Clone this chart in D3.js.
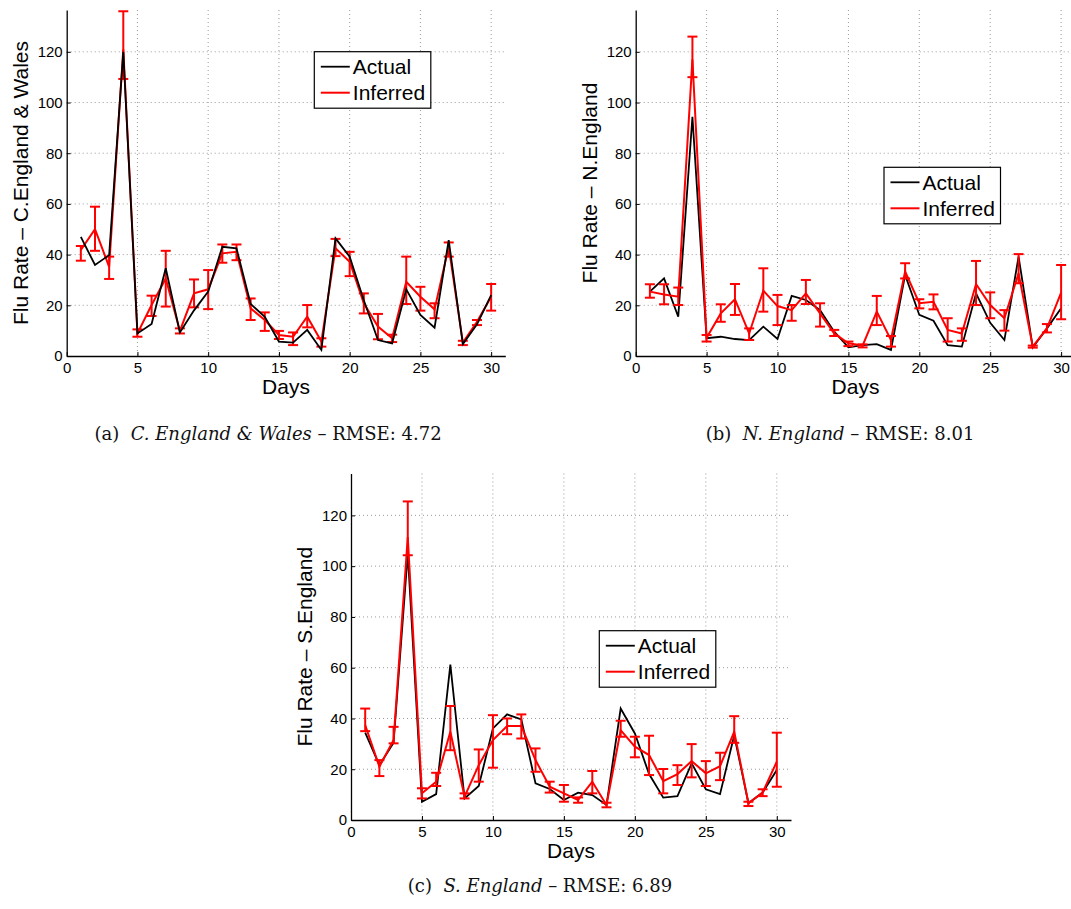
<!DOCTYPE html>
<html>
<head>
<meta charset="utf-8">
<script src="https://cdn.jsdelivr.net/npm/d3@7"></script>
<style>
  html, body { margin: 0; padding: 0; background: #fff; }
  svg { display: block; }
  .sans { font-family: "Liberation Sans", Arial, Helvetica, sans-serif; }
  .serif { font-family: "DejaVu Serif", "Liberation Serif", serif; }
</style>
</head>
<body>
<svg id="chart" width="1071" height="909"></svg>
<script>
// ---------------- DATA ----------------
const days = [1,2,3,4,5,6,7,8,9,10,11,12,13,14,15,16,17,18,19,20,21,22,23,24,25,26,27,28,29,30];
const xTicks = [0,5,10,15,20,25,30];
const yTicks = [0,20,40,60,80,100,120];
const seriesNames = ["Actual", "Inferred"];

// (a) C. England & Wales
const actualA = [47.0,35.9,39.8,120,8.9,12.6,34.6,9.3,18.0,25.4,43.1,42.5,20.5,15.5,5.7,5.3,10.3,2.4,46.4,39.2,22.0,6.3,5.0,26.3,16.2,11.2,45.7,4.7,12.5,24.0];
const inferredA = [41.8,50.0,35.2,121,8.9,20.1,30.6,9.9,24.7,26.3,40.5,41.1,18.8,14.2,8.3,7.6,15.5,5.7,42.5,37.2,20.8,11.6,7.0,29.3,23.4,18.4,43.1,5.3,13.5,23.4];
const inferredHiA = [43.4,58.9,39.2,136,10.5,23.8,41.5,10.9,30.2,33.9,44.0,44.0,22.7,17.2,9.9,9.3,20.1,7.0,46.2,41.1,24.7,16.6,8.4,39.2,27.3,20.8,44.8,6.0,14.2,28.4];
const inferredLoA = [37.6,41.5,30.4,109.3,7.6,15.8,19.5,8.9,19.2,18.5,36.8,37.8,14.2,9.9,6.7,4.3,11.3,3.7,39.4,31.5,16.8,6.6,5.5,20.5,17.9,14.9,39.2,4.3,12.2,17.9];

// (b) N. England
const actualB = [25.4,30.6,15.5,94.4,7.0,7.6,6.7,6.3,11.6,6.7,23.7,22.1,18.1,9.6,3.4,4.3,4.7,2.4,32.0,16.2,13.9,4.3,3.7,24.7,13.1,6.3,39.2,3.4,10.9,18.8];
const inferredB = [25.4,24.3,23.4,117,7.2,16.8,22.4,8.9,25.8,19.7,18.1,24.7,16.8,8.9,5.0,4.1,17.5,6.3,33.3,20.8,21.4,10.3,8.9,28.4,20.1,14.9,32.6,3.7,10.9,25.0];
const inferredHiB = [28.3,28.3,27.0,126,8.3,20.4,28.4,10.9,34.6,24.1,20.1,30.0,20.8,10.3,5.7,4.6,23.7,7.9,36.6,22.4,24.3,14.9,10.9,37.5,25.1,18.1,40.2,4.1,12.6,35.9];
const inferredLoB = [23.0,20.4,20.1,110,5.7,13.5,16.2,6.3,17.5,12.2,13.9,20.5,11.6,7.9,3.9,3.4,12.2,3.7,30.6,18.8,18.4,5.7,6.0,20.1,14.9,10.0,28.7,3.3,9.3,14.5];

// (c) S. England
const actualC = [34.4,21.6,30.4,105,7.2,10.2,61.2,8.5,13.4,36.1,41.6,39.6,14.4,12.2,7.9,10.8,9.8,5.9,43.9,34.1,18.1,8.8,9.4,22.3,12.1,10.2,33.4,6.6,10.8,19.7];
const inferredC = [37.4,21.0,31.5,111.5,10.5,15.1,34.8,9.2,21.6,31.5,37.0,37.0,23.6,13.1,10.5,7.9,15.1,5.9,35.4,28.9,25.6,15.3,18.1,23.2,18.4,21.2,34.8,6.6,10.8,23.0];
const inferredHiC = [43.9,23.6,36.7,125.5,12.5,18.6,44.9,10.5,27.8,41.3,40.0,41.6,28.2,15.1,13.8,8.9,19.3,6.8,39.1,32.8,33.2,20.1,21.6,29.9,23.2,26.5,40.9,7.2,12.1,34.4];
const inferredLoC = [35.0,17.3,30.2,104.3,8.5,13.4,27.5,8.5,15.1,20.6,33.8,32.1,19.0,10.8,7.2,6.8,10.5,5.0,32.8,24.7,17.7,10.5,13.8,16.8,13.4,15.7,30.4,5.5,9.4,13.1];

const yLabels = ["Flu Rate \u2013 C.England & Wales", "Flu Rate \u2013 N.England", "Flu Rate \u2013 S.England"];
const xLabel = "Days";
const captionTags = ["(a)", "(b)", "(c)"];
const captionRegions = ["C. England & Wales", "N. England", "S. England"];
const captionRmse = ["4.72", "8.01", "6.89"];

// ---------------- LAYOUT ----------------
const panels = [
  { left: 66.7, top: 10, width: 438.6, height: 346, legend: [314.3, 51.7], redOnTop: false,
    actual: actualA, inferred: inferredA, hi: inferredHiA, lo: inferredLoA, caption: [268, 440] },
  { left: 635.7, top: 10, width: 439.6, height: 346, legend: [884, 167.3], redOnTop: true,
    actual: actualB, inferred: inferredB, hi: inferredHiB, lo: inferredLoB, caption: [840, 440] },
  { left: 351, top: 473.5, width: 440, height: 346.5, legend: [599.3, 630.7], redOnTop: true,
    actual: actualC, inferred: inferredC, hi: inferredHiC, lo: inferredLoC, caption: [540, 892] }
];

const svg = d3.select("#chart");
const RED = "#ff0000";

panels.forEach((p, i) => {
  const g = svg.append("g").attr("transform", `translate(${p.left},${p.top})`);
  const x = d3.scaleLinear().domain([0, 31]).range([0, p.width]);
  const y = d3.scaleLinear().domain([0, 136.5]).range([p.height, 0]);

  // grid
  g.append("g").selectAll("line.vg").data(xTicks.filter(t => t > 0)).join("line")
    .attr("x1", d => x(d)).attr("x2", d => x(d)).attr("y1", 0).attr("y2", p.height)
    .attr("stroke", "#9a9a9a").attr("stroke-width", 1).attr("stroke-dasharray", "1,3");
  g.append("g").selectAll("line.hg").data(yTicks.filter(t => t > 0)).join("line")
    .attr("x1", 0).attr("x2", p.width).attr("y1", d => y(d)).attr("y2", d => y(d))
    .attr("stroke", "#9a9a9a").attr("stroke-width", 1).attr("stroke-dasharray", "1,3");

  // axes
  const ax = g.append("g").attr("transform", `translate(0,${p.height})`)
    .call(d3.axisBottom(x).tickValues(xTicks).tickSizeInner(-4).tickSizeOuter(0).tickPadding(6));
  const ay = g.append("g")
    .call(d3.axisLeft(y).tickValues(yTicks).tickSizeInner(-4).tickSizeOuter(0).tickPadding(4));
  [ax, ay].forEach(a => {
    a.selectAll("text").attr("class", "sans").style("font-size", "15px").attr("fill", "#000");
    a.select(".domain").attr("stroke", "#000").attr("stroke-width", 1.3);
    a.selectAll(".tick line").attr("stroke", "#000");
    a.attr("font-family", null).attr("font-size", null);
  });

  // labels
  g.append("text").attr("class", "sans")
    .attr("transform", `translate(${-39},${p.height / 2}) rotate(-90)`)
    .attr("text-anchor", "middle").style("font-size", "21px").text(yLabels[i]);
  g.append("text").attr("class", "sans")
    .attr("x", p.width / 2).attr("y", p.height + 38)
    .attr("text-anchor", "middle").style("font-size", "21px").text(xLabel);

  const line = d3.line().x((d, k) => x(days[k])).y(d => y(d));

  const drawActual = () => g.append("path").datum(p.actual)
    .attr("d", line).attr("fill", "none").attr("stroke", "#000").attr("stroke-width", 1.8)
    .attr("stroke-linejoin", "miter");
  const drawInferred = () => {
    const eg = g.append("g");
    eg.append("path").datum(p.inferred)
      .attr("d", line).attr("fill", "none").attr("stroke", RED).attr("stroke-width", 2);
    const bars = eg.selectAll("g.eb").data(days).join("g");
    bars.append("line")
      .attr("x1", (d) => x(d)).attr("x2", (d) => x(d))
      .attr("y1", (d, k) => y(p.lo[k])).attr("y2", (d, k) => y(p.hi[k]))
      .attr("stroke", RED).attr("stroke-width", 2);
    bars.append("line")
      .attr("x1", (d) => x(d) - 5).attr("x2", (d) => x(d) + 5)
      .attr("y1", (d, k) => y(p.lo[k])).attr("y2", (d, k) => y(p.lo[k]))
      .attr("stroke", RED).attr("stroke-width", 2);
    bars.append("line")
      .attr("x1", (d) => x(d) - 5).attr("x2", (d) => x(d) + 5)
      .attr("y1", (d, k) => y(p.hi[k])).attr("y2", (d, k) => y(p.hi[k]))
      .attr("stroke", RED).attr("stroke-width", 2);
  };
  if (p.redOnTop) { drawActual(); drawInferred(); } else { drawInferred(); drawActual(); }

  // legend
  const lg = svg.append("g").attr("transform", `translate(${p.legend[0]},${p.legend[1]})`);
  lg.append("rect").attr("width", 116.5).attr("height", 56.5)
    .attr("fill", "#fff").attr("stroke", "#000").attr("stroke-width", 1.2);
  const colors = ["#000", RED];
  seriesNames.forEach((nm, k) => {
    const cy = 15 + k * 26;
    lg.append("line").attr("x1", 6.5).attr("x2", 35.5).attr("y1", cy).attr("y2", cy)
      .attr("stroke", colors[k]).attr("stroke-width", k === 0 ? 1.8 : 2);
    lg.append("text").attr("class", "sans").attr("x", 38.5).attr("y", cy + 7.5)
      .style("font-size", "21px").text(nm);
  });

  // caption
  const cap = svg.append("text").attr("class", "serif")
    .attr("x", p.caption[0]).attr("y", p.caption[1])
    .attr("text-anchor", "middle").style("font-size", "18px").attr("fill", "#111");
  cap.append("tspan").text(captionTags[i] + "\u00a0\u00a0");
  cap.append("tspan").style("font-style", "italic").text(captionRegions[i]);
  cap.append("tspan").text(" \u2013 RMSE: " + captionRmse[i]);
});
</script>
</body>
</html>
